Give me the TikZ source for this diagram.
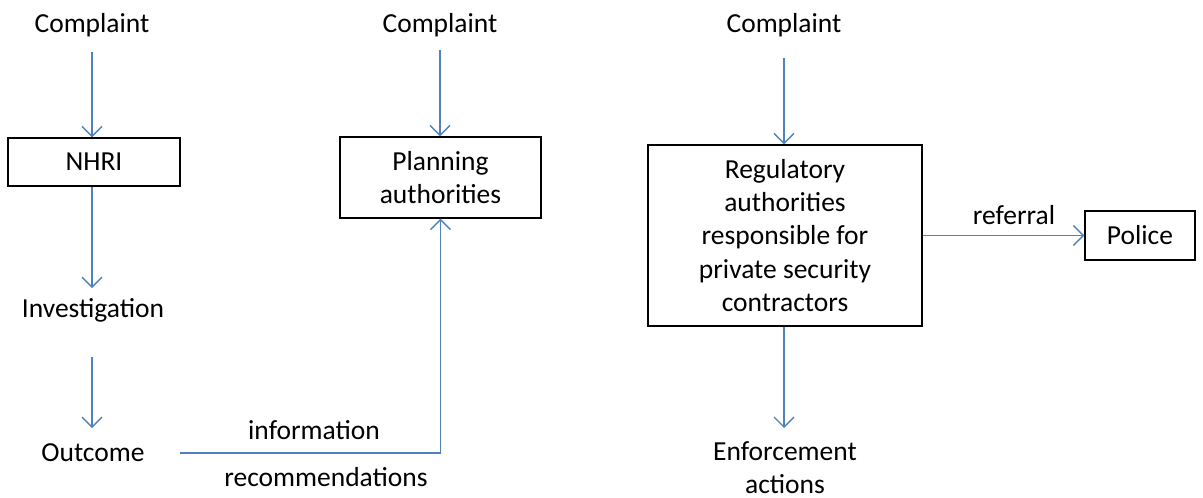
\documentclass[tikz,border=0pt]{standalone}
\usepackage{fontspec}
\setmainfont{Carlito}
\usetikzlibrary{arrows.meta}
\definecolor{flowblue}{RGB}{79,129,189}
\begin{document}
\begin{tikzpicture}[x=1pt,y=-1pt,
  every node/.style={font=\fontsize{27.5}{33.3}\selectfont, text=black, align=center, inner sep=0pt},
  boxnode/.style={draw=black, line width=1.4pt},
  arr/.style={draw=flowblue, line width=1.3pt, -{Straight Barb[length=10pt,width=20pt,line width=1.3pt]}},
  link/.style={draw=flowblue, line width=1.3pt}]
\useasboundingbox (0,0) rectangle (1203,498);

% left chain: NHRI
\node (c1) at (92,25) {Complaint};
\node[boxnode, minimum width=172pt, minimum height=48pt] (nhri) at (94,162) {NHRI};
\node (inv) at (93,310) {Investigation};
\node (out) at (93,453) {Outcome};

% middle: planning authorities
\node (c2) at (440,25) {Complaint};
\node[boxnode, minimum width=201pt, minimum height=81pt] (plan) at (440.5,177.5) {Planning\\authorities};

% right: regulatory authorities
\node (c3) at (784,25) {Complaint};
\node[boxnode, minimum width=274pt, minimum height=181pt] (reg) at (785,235.5) {Regulatory\\authorities\\responsible for\\private security\\contractors};
\node[boxnode, minimum width=110pt, minimum height=49pt] (police) at (1140,235.5) {Police};
\node (enf) at (785,468) {Enforcement\\actions};

% edge labels
\node (lblinfo) at (314,430) {information};
\node (lblrec) at (326,477) {recommendations};
\node (lblref) at (1014,215) {referral};

% connectors
\draw[arr] ([yshift=-27pt]c1.center) -- (c1 |- nhri.north);
\draw[arr] (c1 |- nhri.south) -- ([yshift=22pt]inv.center -| c1);
\draw[arr] ([yshift=-47pt]inv.center -| c1) -- ([yshift=25pt]out.center -| c1);
\draw[arr] ([xshift=87pt]out.center) -| (plan.south);
\draw[arr] ([yshift=-25pt]c2.center) -- (c2 |- plan.north);
\draw[arr] ([yshift=-33pt]c3.center) -- (c3 |- reg.north);
\draw[arr] (reg.east) -- (police.west);
\draw[arr] (c3 |- reg.south) -- ([yshift=40pt]enf.center -| c3);
\end{tikzpicture}
\end{document}
